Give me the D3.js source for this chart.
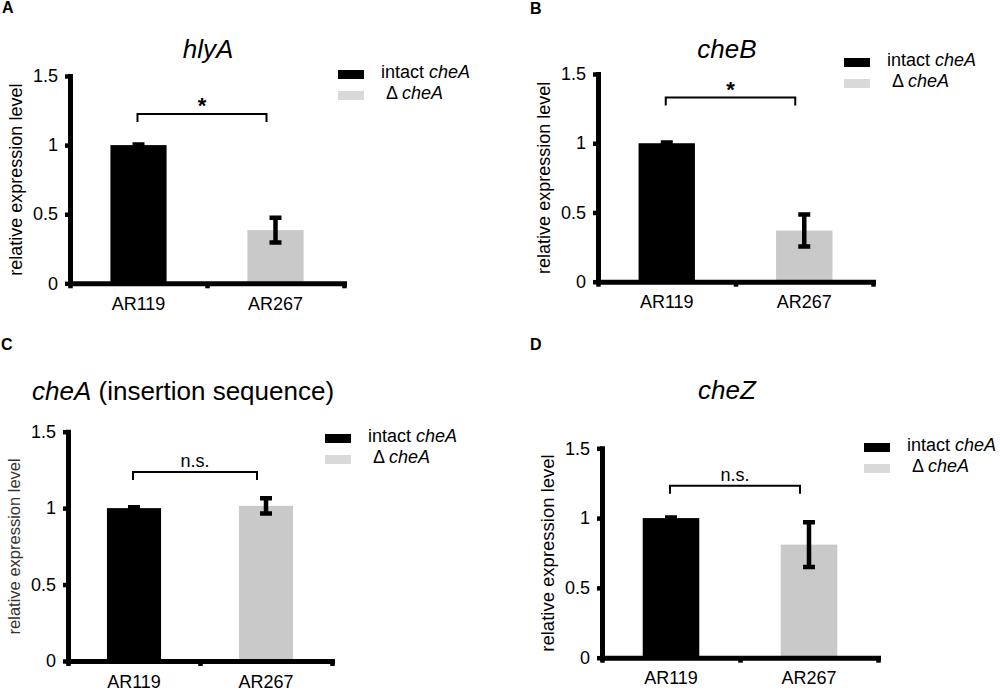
<!DOCTYPE html>
<html>
<head>
<meta charset="utf-8">
<script src="https://cdn.jsdelivr.net/npm/d3@7"></script>
<style>
  body { margin: 0; background: #fff; }
  svg { display: block; font-family: "Liberation Sans", Arial, sans-serif; }
</style>
</head>
<body>
<div id="chart"></div>
<script>
// data
const categories = ['AR119', 'AR267'];
const panelLetters = ['A', 'B', 'C', 'D'];
const genes = ['hlyA', 'cheB', 'cheA', 'cheZ'];
const titleSuffix = ['', '', ' (insertion sequence)', ''];
const meanValues = [
        [1.0, 0.385],
        [1.0, 0.37],
        [1.0, 1.015],
        [1.0, 0.81]
];
const errValues = [
        [0.005, 0.09],
        [0.005, 0.115],
        [0.005, 0.05],
        [0.005, 0.16]
];
const significance = ['*', '*', 'n.s.', 'n.s.'];
const bracketLevel = [1.225, 1.33, 1.236, 1.232];
const yTicks = [0, 0.5, 1, 1.5];
const yTickLabels = ['0', '0.5', '1', '1.5'];
const seriesColors = ['#000000', '#c9c9c9'];
const legendColors = ['#000000', '#d9d9d9'];
const legendPrefix = ['intact ', '\u0394 '];
const legendGene = 'cheA';

// where each panel sits on the page
const layout = [
        { x0: 70, x1: 344, yBottom: 283.3, yTop: 76, titleX: 208, titleY: 58, anchor: 'middle', legX: 338, legY: 70, letX: 2, letY: 13, yTitleSize: 18, yTitleColor: '#000' },
        { x0: 598, x1: 873, yBottom: 281.7, yTop: 74, titleX: 727, titleY: 58, anchor: 'middle', legX: 844, legY: 58, letX: 530, letY: 14, yTitleSize: 18, yTitleColor: '#000' },
        { x0: 68, x1: 332, yBottom: 661, yTop: 431.7, titleX: 32, titleY: 400, anchor: 'start', legX: 325, legY: 434, letX: 1, letY: 350, yTitleSize: 16.5, yTitleColor: '#333' },
        { x0: 602, x1: 878, yBottom: 657.7, yTop: 448.3, titleX: 727, titleY: 399, anchor: 'middle', legX: 864, legY: 443, letX: 530, letY: 350, yTitleSize: 18.5, yTitleColor: '#000' }
];

const svg = d3.select('#chart').append('svg')
        .attr('width', 1000)
        .attr('height', 691);

svg.append('rect')
        .attr('width', 1000)
        .attr('height', 691)
        .attr('fill', '#fff');

const styleAxis = (sel) => {
        sel.select('.domain')
                .attr('stroke', '#000')
                .attr('stroke-width', 5)
                .attr('stroke-linecap', 'square');
        sel.selectAll('.tick line')
                .attr('stroke', '#000')
                .attr('stroke-width', 4.5);
        sel.selectAll('.tick text')
                .attr('font-size', 18)
                .attr('fill', '#000')
                .attr('font-family', '"Liberation Sans", Arial, sans-serif');
};

const drawPanel = (i) => {
        const L = layout[i];
        const g = svg.append('g').attr('class', `panel${panelLetters[i]}`);

        const x = d3.scaleBand()
                .domain(categories)
                .range([L.x0, L.x1])
                .paddingInner(0.59)
                .paddingOuter(0.295);
        // boundaries between categories carry the x tick marks
        const xEdge = d3.scaleLinear().domain([0, categories.length]).range([L.x0, L.x1]);
        const y = d3.scaleLinear().domain([0, 1.5]).range([L.yBottom, L.yTop]);

        const rows = categories.map((c, k) => ({ cat: c, v: meanValues[i][k], e: errValues[i][k], k }));

        // bars
        g.selectAll('rect.bar').data(rows).join('rect')
                .attr('class', 'bar')
                .attr('x', d => x(d.cat))
                .attr('width', x.bandwidth())
                .attr('y', d => y(d.v))
                .attr('height', d => y(0) - y(d.v))
                .attr('fill', d => seriesColors[d.k]);

        // error bars
        g.selectAll('path.err').data(rows).join('path')
                .attr('class', 'err')
                .attr('d', d => {
                        const cx = x(d.cat) + x.bandwidth() / 2;
                        const hi = y(d.v + d.e), lo = y(d.v - d.e);
                        return `M${cx},${hi}V${lo}M${cx - 6},${hi}H${cx + 6}M${cx - 6},${lo}H${cx + 6}`;
                })
                .attr('stroke', '#000')
                .attr('stroke-width', 4.5)
                .attr('fill', 'none');

        // y axis
        g.append('g')
                .attr('transform', `translate(${L.x0},0)`)
                .call(d3.axisLeft(y).tickValues(yTicks).tickFormat((d, j) => yTickLabels[j]).tickSize(5).tickSizeOuter(0).tickPadding(7))
                .call(styleAxis);

        // x axis: marks at category edges
        g.append('g')
                .attr('transform', `translate(0,${L.yBottom})`)
                .call(d3.axisBottom(xEdge).tickValues(d3.range(categories.length + 1)).tickFormat('').tickSize(5).tickSizeOuter(0))
                .call(styleAxis);

        // x labels at category centers
        const xLab = g.append('g')
                .attr('transform', `translate(0,${L.yBottom})`)
                .call(d3.axisBottom(x).tickSize(0).tickPadding(14))
                .call(styleAxis);
        xLab.select('.domain').remove();

        // y axis title
        g.append('text')
                .attr('transform', `translate(${L.x0 - 48},${(L.yBottom + L.yTop) / 2}) rotate(-90)`)
                .attr('text-anchor', 'middle')
                .attr('font-size', L.yTitleSize)
                .attr('fill', L.yTitleColor)
                .text('relative expression level');

        // gene title
        const t = g.append('text')
                .attr('x', L.titleX)
                .attr('y', L.titleY)
                .attr('text-anchor', L.anchor)
                .attr('font-size', 26);
        t.append('tspan').attr('font-style', 'italic').text(genes[i]);
        if (titleSuffix[i]) t.append('tspan').text(titleSuffix[i]);

        // panel letter
        g.append('text')
                .attr('x', L.letX)
                .attr('y', L.letY)
                .attr('font-size', 16)
                .attr('font-weight', 'bold')
                .text(panelLetters[i]);

        // significance bracket
        const bx0 = x(categories[0]) + x.bandwidth() / 2 - 1;
        const bx1 = x(categories[1]) + x.bandwidth() / 2 - 9;
        const by = y(bracketLevel[i]);
        g.append('path')
                .attr('d', `M${bx0},${by + 8}V${by}H${bx1}V${by + 8}`)
                .attr('stroke', '#000')
                .attr('stroke-width', 2)
                .attr('fill', 'none');
        const star = significance[i] === '*';
        g.append('text')
                .attr('x', (bx0 + bx1) / 2)
                .attr('y', star ? by - 1 : by - 5)
                .attr('text-anchor', 'middle')
                .attr('font-size', star ? 22 : 18)
                .attr('font-weight', star ? 'bold' : 'normal')
                .text(significance[i]);

        // legend
        const leg = g.selectAll('g.leg').data(legendPrefix).join('g')
                .attr('class', 'leg')
                .attr('transform', (d, k) => `translate(${L.legX},${L.legY + k * 21})`);
        leg.append('rect')
                .attr('width', 26)
                .attr('height', 9)
                .attr('fill', (d, k) => legendColors[k]);
        const lt = leg.append('text')
                .attr('x', (d, k) => k === 0 ? 43 : 48)
                .attr('y', 7.5)
                .attr('font-size', 18);
        lt.append('tspan').text(d => d);
        lt.append('tspan').attr('font-style', 'italic').text(legendGene);
};

panelLetters.forEach((p, i) => drawPanel(i));
</script>
</body>
</html>
